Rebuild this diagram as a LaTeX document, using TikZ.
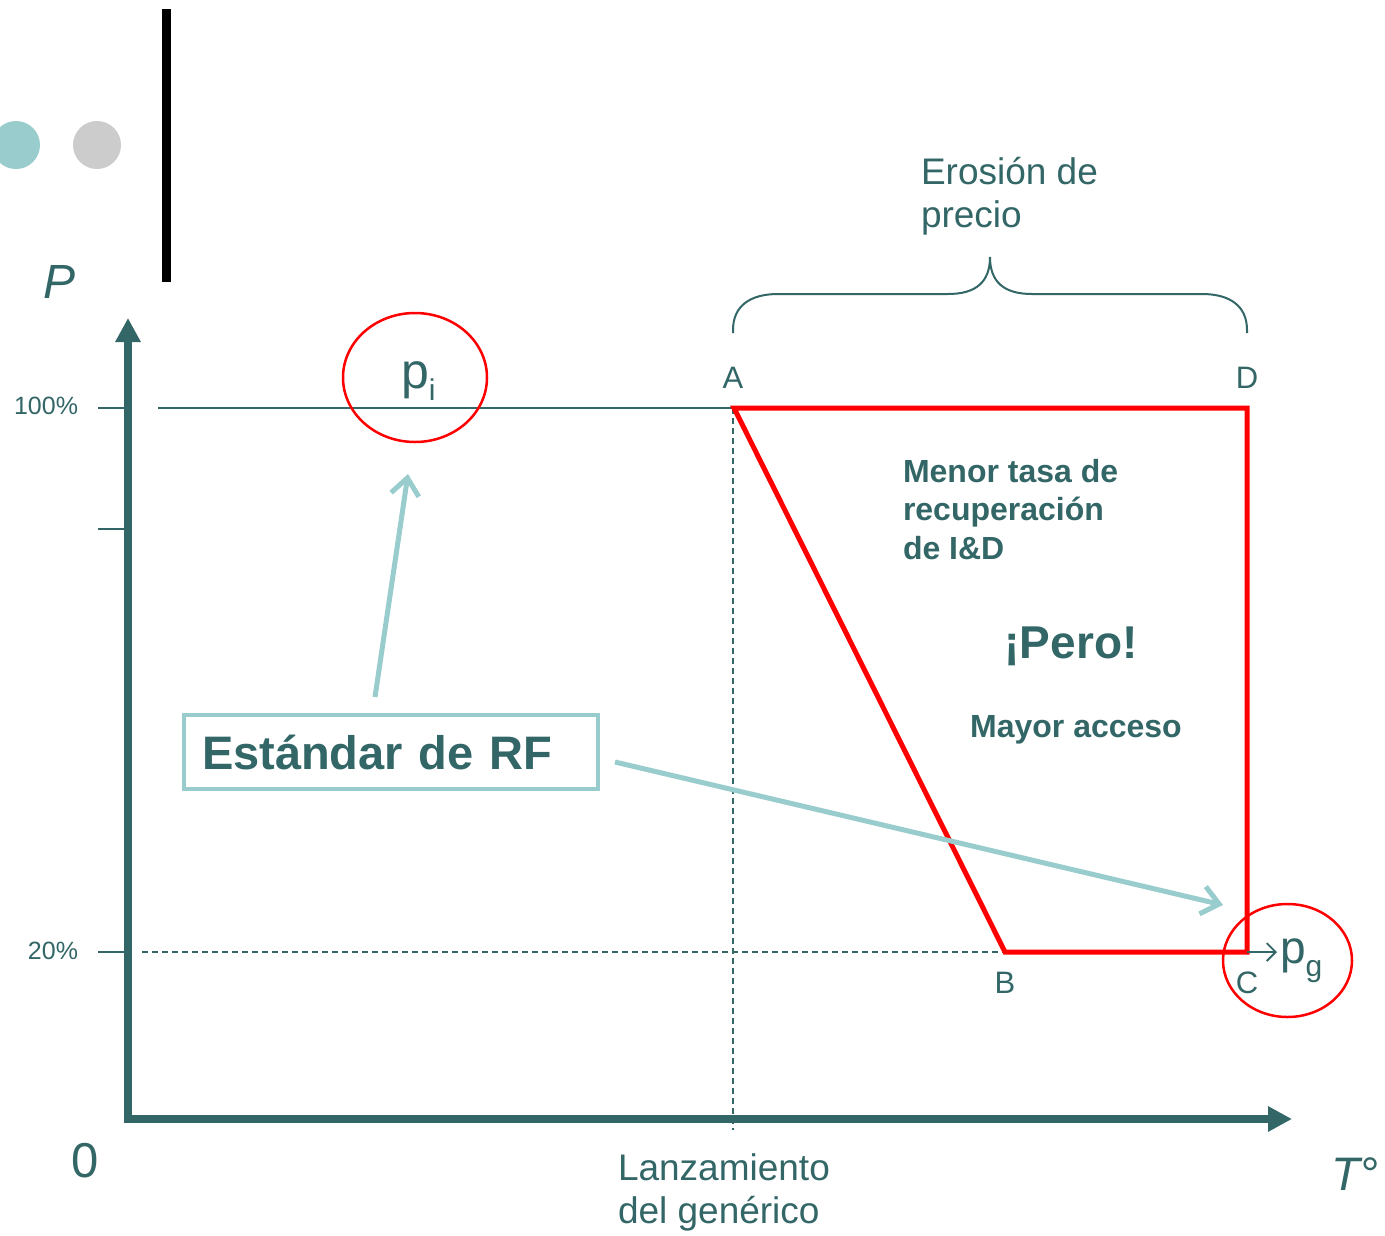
\documentclass[tikz,border=0pt]{standalone}
\usepackage{fontspec}
\setmainfont{Liberation Sans}
\usetikzlibrary{arrows.meta,shapes.geometric}
\definecolor{dteal}{RGB}{51,102,102}
\definecolor{lteal}{RGB}{153,204,204}
\definecolor{lgray}{RGB}{204,204,204}
\definecolor{pred}{RGB}{255,0,0}
\newcommand\fsz[2]{\fontsize{#1}{#2}\selectfont}
\tikzset{
  every node/.style={inner sep=0pt, outer sep=0pt, text=dteal},
  axisline/.style={draw=dteal, line width=7.5pt, -{Triangle[length=24pt,width=24pt]}},
  tickline/.style={draw=dteal, line width=2.2pt},
  dashline/.style={draw=dteal, line width=1.4pt, dash pattern=on 6pt off 4pt},
  redframe/.style={draw=pred, line width=5pt, line join=miter},
  redring/.style={draw=pred, line width=2.5pt, ellipse},
  lightarr/.style={draw=lteal, line width=5pt, -{Straight Barb[length=17pt,width=28pt]}},
  smallarr/.style={draw=dteal, line width=1.8pt, -{Straight Barb[length=9pt,width=18pt]}},
  lettr/.style={font=\fsz{31}{37}, anchor=base},
  bigtxt/.style={font=\fsz{37}{43}, anchor=base west, align=left},
  boldtxt/.style={font=\fsz{32}{38.5}\bfseries},
  rfbox/.style={draw=lteal, line width=4.5pt, minimum height=74pt, text width=378pt,
    inner xsep=18pt, align=left, font=\fsz{47}{56}\bfseries},
  bracestyle/.style={draw=dteal, line width=2pt}
}
\begin{document}
\begin{tikzpicture}[x=1pt,y=-1pt]
\useasboundingbox[fill=white] (0,0) rectangle (1385,1235);

% decoration top left
\node[circle, fill=lteal, minimum size=48pt] (dot1) at (16,145) {};
\node[circle, fill=lgray, minimum size=48pt] (dot2) at (97,145) {};
\coordinate (bart) at (166.5,9);
\coordinate (barb) at (166.5,282);
\draw[line width=9pt, black] (bart) -- (barb);

% axes
\coordinate (O) at (128,1119);
\coordinate (ytop) at (128,318);
\coordinate (xend) at (1292,1119);
\coordinate (ybot) at (128,1122);
\coordinate (xbeg) at (124,1119);
\draw[axisline] (ybot) -- (ytop);
\draw[axisline] (xbeg) -- (xend);

\node[font=\fsz{48}{58}\itshape, anchor=base] (Plab) at (60,298) {P};
\node[font=\fsz{49}{58}, anchor=base] (zero) at (85,1177) {0};
\node[font=\fsz{47}{56}\itshape, anchor=base west] (Tlab) at (1331,1190) {T°};

% ticks
\coordinate (t1a) at (98,408);  \coordinate (t1b) at (128,408);
\coordinate (t2a) at (98,529);  \coordinate (t2b) at (128,529);
\coordinate (t3a) at (98,952);  \coordinate (t3b) at (128,952);
\draw[tickline] (t1a) -- (t1b);
\draw[tickline] (t2a) -- (t2b);
\draw[tickline] (t3a) -- (t3b);
\node[font=\fsz{25}{30}, anchor=base east] (l100) at (78,414) {100\%};
\node[font=\fsz{25}{30}, anchor=base east] (l20) at (78,959) {20\%};

% key points
\coordinate (A) at (734,408);
\coordinate (D) at (1247,408);
\coordinate (C) at (1247,952);
\coordinate (B) at (1005,952);
\coordinate (h100) at (158,408);
\coordinate (h20) at (142,952);
\coordinate (vlow) at (733,1130);
\coordinate (vtop) at (733,408);

\draw[tickline] (h100) -- (A);
\draw[dashline] (h20) -- (B);
\draw[dashline] (vtop) -- (vlow);

\draw[redframe] (A) -- (D) -- (C) -- (B) -- cycle;

\node[lettr] (Alab) at (733,388) {A};
\node[lettr] (Dlab) at (1247,388) {D};
\node[lettr] (Blab) at (1005,993) {B};
\node[lettr] (Clab) at (1247,993) {C};

% brace
\draw[bracestyle] (733,333) -- (733,330) .. controls (733,306) and (750,294) .. (778,294)
  -- (948,294) .. controls (976,294) and (990,282) .. (990,257)
  .. controls (990,282) and (1004,294) .. (1032,294)
  -- (1202,294) .. controls (1230,294) and (1247,306) .. (1247,330) -- (1247,333);
\node[bigtxt] (eros) at (921,227) {Erosión de\\precio};

% p_i
\node[redring, minimum width=144pt, minimum height=129pt] (ringi) at (415,377.5) {};
\node[font=\fsz{50}{60}, anchor=base west] (pi) at (401,388) {p\raisebox{-12pt}{\fsz{30}{36}i}};

% p_g
\node[redring, minimum width=129pt, minimum height=113pt] (ringg) at (1287.5,960.5) {};
\coordinate (pgarr) at (1277,952);
\draw[smallarr] (C) -- (pgarr);
\node[font=\fsz{46}{56}, anchor=base west] (pg) at (1280,963) {p\raisebox{-13pt}{\fsz{30}{36}g}};

% RF box and arrows
\node[rfbox] (rf) at (391,752) {Estándar de RF};
\coordinate (a1s) at (375,697);
\coordinate (a1e) at (408,474);
\coordinate (a2s) at (615,762);
\coordinate (a2e) at (1223,905);
\draw[lightarr] (a1s) -- (a1e);
\draw[lightarr] (a2s) -- (a2e);

% texts in the frame
\node[boldtxt, anchor=base west, align=left] (menor) at (903,559) {Menor tasa de\\recuperación\\de I\&D};
\node[font=\fsz{46}{55}\bfseries, anchor=base] (pero) at (1071,658) {¡Pero!};
\node[boldtxt, anchor=base] (mayor) at (1076,737) {Mayor acceso};

% x label
\node[bigtxt] (lanz) at (618,1223) {Lanzamiento\\del genérico};
\end{tikzpicture}
\end{document}
